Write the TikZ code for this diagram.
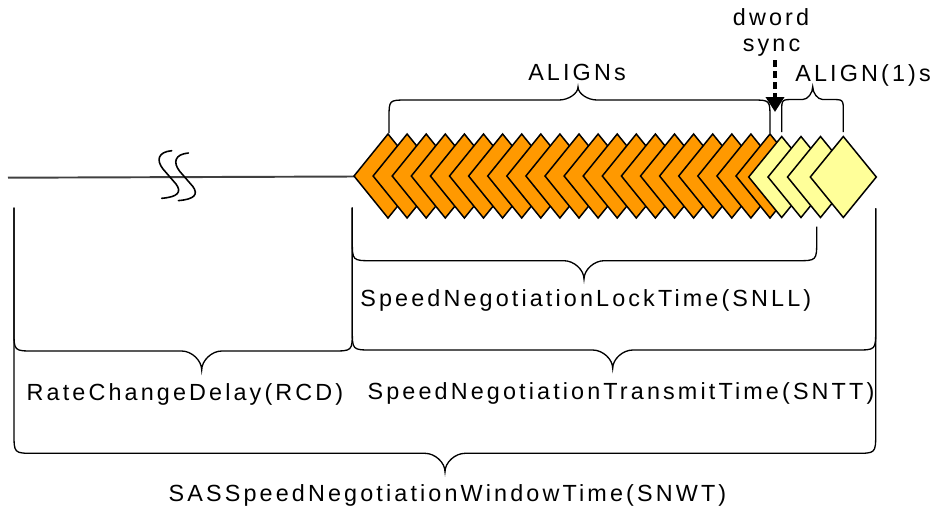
\documentclass[tikz,border=0pt]{standalone}
\usepackage{fontspec}
\newfontfamily\lblfont[LetterSpace=13.4]{Liberation Sans}
\usetikzlibrary{arrows.meta, positioning}

\definecolor{alignorange}{RGB}{255,153,0}
\definecolor{alignyellow}{RGB}{255,255,153}

\newcommand{\drawbrace}[9]{%
  \pgfmathsetmacro{\bcy}{#4<#6 ? #6-#8 : #6+#8}%
  \pgfmathsetmacro{\bmy}{(#6+#7)/2}%
  \draw[bracestyle] (#1,#4) -- (#1,\bcy) .. controls (#1,#6) .. (#1+#8,#6)
    -- (#3-#9,#6) .. controls (#3-#9/2,#6) and (#3,\bmy) .. (#3,#7)
    .. controls (#3,\bmy) and (#3+#9/2,#6) .. (#3+#9,#6)
    -- (#2-#8,#6) .. controls (#2,#6) .. (#2,\bcy) -- (#2,#5);
}

\begin{document}
\begin{tikzpicture}[
    x=0.02cm, y=-0.02cm,
    every node/.style = {font=\lblfont\fontsize{13.3pt}{15.1pt}\selectfont, inner sep=0pt},
    bracestyle/.style = {line width=0.75pt},
    chip/.style = {draw=black, line width=0.85pt, line join=miter},
    wire/.style = {draw=black!75, line width=1.1pt},
    breakmark/.style = {line width=0.9pt, line cap=round},
    syncarrow/.style = {line width=2.1pt, dash pattern=on 0.13cm off 0.09cm, -{Triangle[width=0.36cm, length=0.3cm]}}
]
    \useasboundingbox (0,0) rectangle (932,508);

    \coordinate (linestart) at (8,177.7);
    \coordinate (firsttip) at (354,176.5);
    \draw[wire] (linestart) -- (firsttip);

    \draw[breakmark] (171.7,150.7) .. controls (158,152) and (156,160) .. (163,169) -- (176,184) .. controls (182,192) and (178,197) .. (161.7,198.3);
    \draw[breakmark] (188.4,153) .. controls (174.7,154.3) and (172.7,162.3) .. (179.7,171.3) -- (192.7,186.3) .. controls (198.7,194.3) and (194.7,199.3) .. (178.4,200.6);

    \foreach \cx in {0,...,20} {
        \pgfmathsetmacro{\xx}{388+19.1*\cx}
        \filldraw[chip, fill=alignorange] (\xx-34,176) -- (\xx,134) -- (\xx+34,176) -- (\xx,218) -- cycle;
    }
    \foreach \xx in {781.7, 801, 820.5, 843.3} {
        \filldraw[chip, fill=alignyellow] (\xx-33,177) -- (\xx,136.5) -- (\xx+33,177) -- (\xx,217.5) -- cycle;
    }

    \drawbrace{389}{770}{578}{133}{133}{100}{87}{18}{19}
    \drawbrace{781.7}{843.3}{812.7}{132}{132}{99.5}{86.7}{12}{10}
    \drawbrace{352.3}{816.7}{584}{207.7}{226.7}{260.7}{279}{20}{20}
    \drawbrace{352.3}{875.7}{612.7}{207.7}{208.3}{350}{368.3}{20}{20}
    \drawbrace{14}{352.3}{201.7}{207.7}{207.7}{351}{370}{20}{20}
    \drawbrace{14}{875.7}{445}{207.7}{208.3}{453.3}{471.7}{20}{20}

    \node[anchor=base] (aligns) at (577,80) {ALIGNs};
    \node[anchor=base] (align1s) at (863,81.7) {ALIGN(1)s};
    \node[anchor=base] (dword) at (771,25) {dword};
    \node[anchor=base, inner sep=2pt] (sync) at (771.5,51.7) {sync};
    \node[anchor=base] (snll) at (585.8,306.7) {SpeedNegotiationLockTime(SNLL)};
    \node[anchor=base] (rcd) at (185,400) {RateChangeDelay(RCD)};
    \node[anchor=base] (sntt) at (621,399) {SpeedNegotiationTransmitTime(SNTT)};
    \node[anchor=base] (snwt) at (447.5,501.7) {SASSpeedNegotiationWindowTime(SNWT)};

    \coordinate (synctip) at (775,112);
    \draw[syncarrow] (sync.south -| synctip) -- (synctip);
\end{tikzpicture}
\end{document}
